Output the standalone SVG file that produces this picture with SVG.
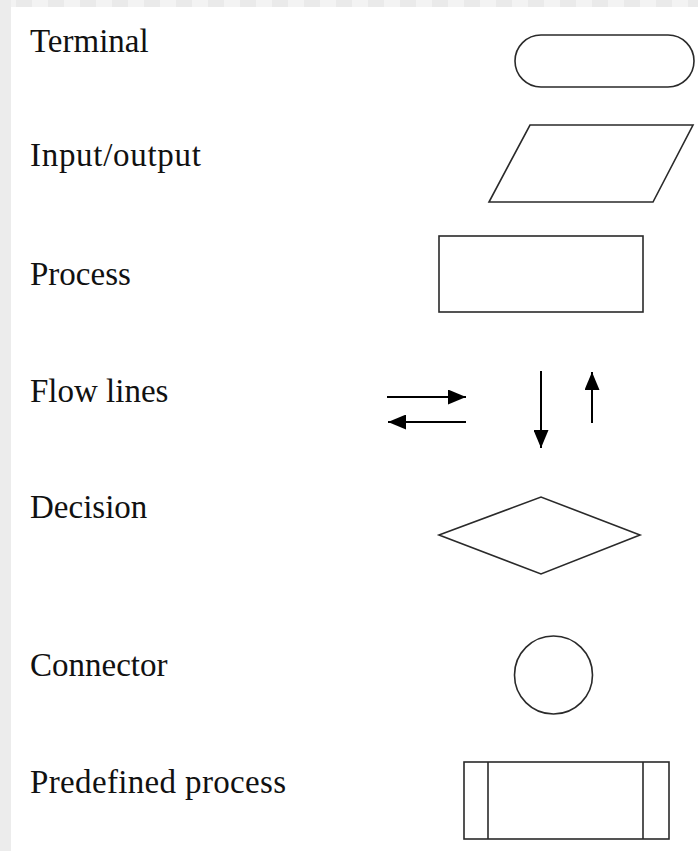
<svg xmlns="http://www.w3.org/2000/svg" width="698" height="851" viewBox="0 0 698 851">
<style>
.lbl{font-family:"Liberation Serif","Times New Roman",serif;font-size:33px;fill:#111}
.shape{fill:#fff;stroke:#2a2a2a;stroke-width:1.6}
.flow{stroke:#000;stroke-width:2;fill:none}
</style>
<defs>
<pattern id="tiles" x="0" y="0" width="32" height="7" patternUnits="userSpaceOnUse">
<rect x="0" y="0" width="16" height="7" fill="#f3f3f3"/>
<rect x="16" y="0" width="16" height="7" fill="#eaeaea"/>
</pattern>
<marker id="ah" viewBox="0 0 10 10" refX="10" refY="5" markerWidth="18" markerHeight="15" markerUnits="userSpaceOnUse" orient="auto" preserveAspectRatio="none">
<path d="M0,0 L10,5 L0,10 z" fill="#000"/>
</marker>
</defs>
<rect width="698" height="851" fill="#fff"/>
<rect x="0" y="0" width="698" height="7" fill="url(#tiles)"/>
<rect x="0" y="0" width="11" height="851" fill="#ececec"/>

<g id="terminal"><text class="lbl" x="30" y="52">Terminal</text><rect class="shape" x="515" y="35" width="179" height="52" rx="26" ry="26"/></g>
<g id="io"><text class="lbl" x="30" y="166" letter-spacing="0.7">Input/output</text><polygon class="shape" points="530,125 693,125 653,202 489,202"/></g>
<g id="process"><text class="lbl" x="30" y="285">Process</text><rect class="shape" x="439" y="236" width="204" height="76"/></g>
<g id="flowlines-label"><text class="lbl" x="30" y="402">Flow lines</text></g>
<g id="decision"><text class="lbl" x="30" y="518">Decision</text><polygon class="shape" points="439,535 541,497 640,535 541,574"/></g>
<g id="connector"><text class="lbl" x="30" y="676">Connector</text><circle class="shape" cx="553.5" cy="675" r="39"/></g>
<g id="predefined"><text class="lbl" x="30" y="793" letter-spacing="0.35">Predefined process</text><rect class="shape" x="464" y="762" width="205" height="77"/><line class="shape" x1="488" y1="762" x2="488" y2="839"/><line class="shape" x1="643" y1="762" x2="643" y2="839"/></g>

<g id="connectors">
<line class="flow" x1="387" y1="397" x2="466" y2="397" marker-end="url(#ah)"/>
<line class="flow" x1="466" y1="422" x2="388" y2="422" marker-end="url(#ah)"/>
<line class="flow" x1="541" y1="371" x2="541" y2="448" marker-end="url(#ah)"/>
<line class="flow" x1="592" y1="423" x2="592" y2="372" marker-end="url(#ah)"/>
</g>
</svg>
